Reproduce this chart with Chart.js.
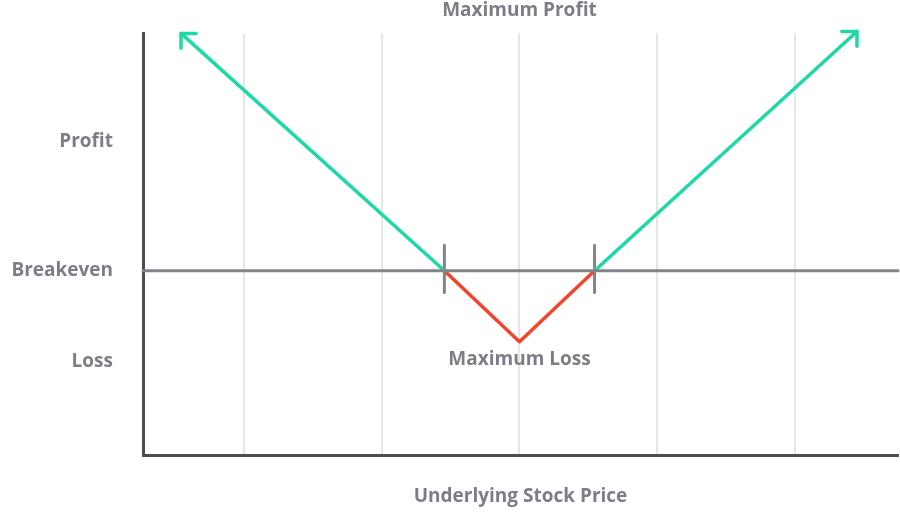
<!DOCTYPE html>
<html><head><meta charset="utf-8">
<script src="https://cdn.jsdelivr.net/npm/chart.js@4/dist/chart.umd.min.js"></script>
<style>html,body{margin:0;background:#fff}#w{width:900px;height:512px}</style>
</head><body><div id="w"><canvas id="c"></canvas></div>
<script>
const leftTip = {x:0.543, y:241};
const leftBreakeven = {x:2.455, y:0};
const minPoint = {x:3, y:-72};
const rightBreakeven = {x:3.545, y:0};
const rightTip = {x:5.45, y:243};
const profitLine1 = [leftTip, leftBreakeven];
const lossLine = [leftBreakeven, minPoint, rightBreakeven];
const profitLine2 = [rightBreakeven, rightTip];
const breakevenLine = [{x:0.267,y:0},{x:5.748,y:0}];
const tickMark1 = [{x:2.455,y:26},{x:2.455,y:-22}];
const tickMark2 = [{x:3.545,y:26},{x:3.545,y:-22}];
const arrowLeft = [{x:0.543,y:226},{x:0.543,y:241},{x:0.652,y:241}];
const arrowRight = [{x:5.34,y:243},{x:5.45,y:243},{x:5.45,y:228}];
const yTickValues = [131, 0, -92];
const yTickLabels = {"131":"Profit","0":"Breakeven","-92":"Loss"};
const gridX = [1,2,3,4,5];
const GREEN='#1ed9a6', RED='#f4442b', GRAY='#818489', TEXT='#7b7e86';
const FONT='"Open Sans", sans-serif';
function ds(data,color,w){return {data,borderColor:color,borderWidth:w,pointRadius:0,fill:false,tension:0,clip:false,borderCapStyle:'round',borderJoinStyle:'round'};}
const labels = {id:'labels',afterDraw(ch){const c=ch.ctx,x=ch.scales.x,y=ch.scales.y;c.save();c.fillStyle=TEXT;c.font='bold 19px '+FONT;c.textAlign='center';c.textBaseline='middle';
c.fillText('Maximum Profit',x.getPixelForValue(3),11);
c.fillText('Maximum Loss',x.getPixelForValue(3),y.getPixelForValue(-90));c.restore();}};
new Chart(document.getElementById('c'),{type:'line',
data:{datasets:[ds(breakevenLine,GRAY,3),ds(profitLine1,GREEN,3.5),ds(profitLine2,GREEN,3.5),ds(lossLine,RED,3.5),ds(tickMark1,GRAY,3),ds(tickMark2,GRAY,3),ds(arrowLeft,GREEN,3.5),ds(arrowRight,GREEN,3.5)]},
options:{responsive:true,maintainAspectRatio:false,animation:false,layout:{padding:{top:27,right:2,left:0,bottom:0}},
plugins:{legend:{display:false},tooltip:{enabled:false}},
scales:{
x:{type:'linear',min:0.267,max:5.748,afterBuildTicks(s){s.ticks=gridX.map(v=>({value:v}));},afterFit(s){s.height=57;},
 grid:{color:'#e6e6e6',lineWidth:2,drawTicks:false},border:{display:true,color:'#4b4e53',width:3},ticks:{display:false},
 title:{display:true,text:'Underlying Stock Price',color:TEXT,font:{family:FONT,size:19,weight:'bold'},padding:{top:25}}},
y:{type:'linear',min:-187,max:241,afterBuildTicks(s){s.ticks=yTickValues.map(v=>({value:v}));},afterFit(s){s.width=143;},
 grid:{display:false},border:{display:true,color:'#4b4e53',width:3},
 ticks:{color:TEXT,font:{family:FONT,size:19,weight:'bold'},padding:22,callback:v=>yTickLabels[String(v)]}}
}},plugins:[labels]});
</script></body></html>
